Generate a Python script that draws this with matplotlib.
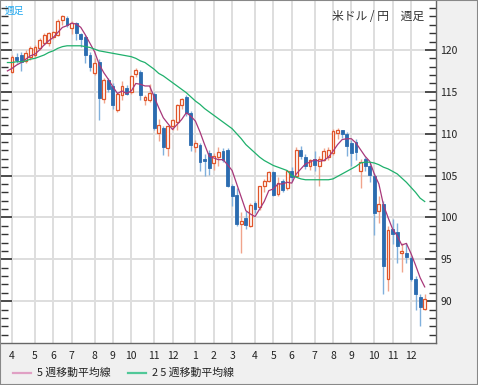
import matplotlib
matplotlib.use("Agg")
import matplotlib.pyplot as plt
from matplotlib.patches import Rectangle
from matplotlib.lines import Line2D

plt.rcParams['font.family'] = ['Noto Sans CJK JP', 'DejaVu Sans']

# 週足 (2007/4 - 2008/12), 1本 = 1週
opens = [117.4, 119.2, 119.4, 118.7, 119.2, 119.4, 120.2, 120.8, 120.8, 121.6,
         121.8, 123.6, 123.8, 122.6, 123.2, 121.9, 121.6, 119.4, 117.2, 118.6,
         114.2, 116.4, 115.7, 112.8, 114.6, 115.4, 115.0, 117.1, 117.4, 114.0,
         114.0, 114.8, 110.1, 110.7, 108.3, 110.9, 111.4, 113.4, 114.4, 112.5,
         108.4, 108.6, 107.0, 107.7, 106.5, 107.2, 107.9, 108.1, 103.7, 102.7,
         99.2, 99.9, 99.0, 101.7, 101.3, 103.7, 104.4, 105.4, 102.8, 104.3,
         103.5, 105.5, 104.9, 108.1, 107.2, 106.1, 107.0, 106.1, 106.9, 107.2,
         107.7, 110.1, 110.4, 110.0, 108.9, 109.0, 105.6, 107.0, 106.1, 105.0,
         100.8, 101.6, 92.6, 98.6, 98.3, 95.7, 95.8, 95.1, 92.7, 90.5, 89.1]
highs = [119.4, 119.6, 119.7, 120.0, 120.5, 120.6, 121.4, 122.0, 122.1, 122.3,
         123.7, 124.2, 124.1, 123.5, 123.4, 122.0, 121.8, 119.7, 119.0, 118.9,
         116.6, 116.6, 116.0, 115.0, 116.3, 115.8, 117.0, 117.8, 117.6, 114.6,
         115.9, 115.0, 111.7, 110.9, 110.9, 111.7, 113.5, 114.3, 114.6, 112.7,
         109.2, 108.9, 107.6, 108.0, 107.7, 108.4, 108.3, 108.3, 104.0, 103.5,
         100.6, 100.8, 101.7, 102.0, 103.8, 104.6, 105.5, 105.6, 104.8, 104.6,
         105.7, 106.0, 108.4, 108.5, 107.6, 107.0, 107.9, 107.3, 108.3, 108.4,
         110.6, 110.7, 110.5, 110.2, 109.2, 109.4, 107.0, 107.2, 106.5, 105.3,
         102.5, 102.0, 99.0, 99.8, 99.3, 97.0, 97.0, 95.4, 93.0, 90.9, 90.9]
lows = [117.3, 118.4, 117.5, 118.5, 118.8, 119.0, 120.0, 120.6, 120.5, 121.3,
        121.7, 123.0, 122.8, 121.9, 121.2, 120.4, 118.4, 117.5, 117.0, 111.6,
        113.7, 115.0, 113.0, 112.6, 114.0, 114.6, 114.8, 116.8, 114.0, 113.4,
        113.8, 110.5, 109.1, 107.5, 107.3, 110.4, 110.5, 113.0, 112.1, 107.9,
        107.8, 105.6, 105.0, 105.1, 105.7, 106.1, 106.6, 103.6, 101.4, 99.0,
        95.8, 98.6, 98.8, 100.5, 100.9, 103.0, 104.2, 102.6, 102.6, 103.0,
        103.3, 104.3, 104.8, 107.0, 105.8, 105.7, 105.5, 103.7, 106.7, 106.9,
        107.5, 109.4, 109.5, 107.3, 106.1, 106.9, 103.5, 105.6, 104.2, 97.9,
        99.3, 90.9, 91.2, 96.8, 94.5, 93.5, 94.6, 92.4, 88.9, 87.0, 89.0]
closes = [119.2, 118.8, 118.6, 119.6, 120.2, 120.4, 121.2, 121.8, 122.0, 122.2,
          123.5, 124.0, 123.0, 123.2, 122.0, 121.3, 119.4, 118.0, 118.5, 114.3,
          116.4, 115.3, 113.4, 114.8, 115.7, 114.8, 116.9, 117.6, 114.6, 114.4,
          114.9, 110.7, 111.0, 108.4, 110.9, 111.6, 113.4, 114.2, 112.5, 108.6,
          108.9, 106.6, 106.7, 105.9, 107.3, 107.8, 106.9, 103.7, 102.5, 99.2,
          99.6, 99.1, 101.5, 101.0, 103.7, 104.3, 105.4, 102.7, 104.1, 103.3,
          105.5, 104.8, 108.1, 107.3, 106.1, 106.8, 106.3, 107.0, 107.9, 108.0,
          110.3, 110.4, 110.0, 108.5, 107.7, 107.8, 106.6, 106.1, 105.1, 100.5,
          101.6, 94.2, 98.5, 98.0, 96.6, 96.0, 95.3, 92.7, 90.9, 89.3, 90.3]

# 移動平均線 (先頭は4月第1週の1本前から)
ma5 = [117.5, 117.8, 118.2, 118.5, 118.9, 119.3, 119.5, 120.0, 120.6, 121.1,
       121.5, 122.1, 122.7, 122.9, 123.2, 123.1, 122.7, 121.8, 120.8, 119.8,
       118.3, 117.3, 116.5, 115.6, 114.8, 115.1, 114.8, 115.1, 116.0, 115.9,
       115.7, 115.7, 114.4, 113.1, 111.9, 111.2, 110.5, 111.1, 111.7, 112.5,
       112.1, 111.5, 110.2, 108.7, 107.3, 107.1, 106.9, 106.9, 106.3, 105.6,
       104.0, 102.4, 100.8, 100.4, 100.1, 101.0, 101.9, 103.2, 103.4, 104.0,
       104.0, 104.2, 104.1, 105.2, 105.8, 106.4, 106.6, 106.9, 106.7, 106.8,
       107.2, 107.9, 108.7, 109.3, 109.4, 109.4, 108.9, 108.1, 107.3, 106.7,
       105.2, 104.0, 101.5, 100.0, 98.6, 97.8, 96.7, 96.9, 95.7, 94.3, 92.8, 91.7]
ma25 = [118.5, 118.5, 118.6, 118.6, 118.7, 118.9, 119.0, 119.2, 119.4, 119.7,
        119.9, 120.2, 120.4, 120.5, 120.5, 120.5, 120.5, 120.4, 120.3, 120.1,
        119.9, 119.8, 119.7, 119.6, 119.5, 119.4, 119.3, 119.2, 119.0, 118.7,
        118.5, 118.1, 117.7, 117.2, 116.9, 116.5, 116.1, 115.7, 115.3, 114.9,
        114.4, 113.9, 113.5, 113.0, 112.6, 112.2, 111.8, 111.4, 111.0, 110.6,
        110.0, 109.4, 108.7, 108.2, 107.7, 107.2, 106.8, 106.5, 106.2, 106.0,
        105.8, 105.6, 105.0, 104.8, 104.6, 104.5, 104.5, 104.5, 104.5, 104.5,
        104.5, 104.6, 104.9, 105.2, 105.5, 105.8, 106.1, 106.5, 106.6, 106.6,
        106.5, 106.3, 106.0, 105.8, 105.5, 105.2, 104.7, 104.2, 103.6, 103.0,
        102.3, 101.9]

month_pos = [0, 5, 9, 13, 18, 22, 26, 31, 35, 40, 44, 48, 53, 57, 61, 66, 70, 74, 79, 83, 87]
month_labels = ['4', '5', '6', '7', '8', '9', '10', '11', '12', '1', '2', '3',
                '4', '5', '6', '7', '8', '9', '10', '11', '12']
y_ticks = [90, 95, 100, 105, 110, 115, 120]

W, H = 478, 385
fig = plt.figure(figsize=(W / 100, H / 100), dpi=100, facecolor='#f0f0f0')
ax = fig.add_axes([1 / W, (H - 343) / H, 435 / W, 342 / H])
ax.set_facecolor('white')

up_edge, up_wick = '#e0552a', '#f0a48c'
dn_face, dn_wick = '#2b6cb0', '#80b0dc'
for i in range(len(opens)):
    o, h, l, c = opens[i], highs[i], lows[i], closes[i]
    if c >= o:
        ax.vlines(i, l, h, color=up_wick, lw=1, zorder=3)
        ax.bar(i, c - o, bottom=o, width=0.62, facecolor='white',
               edgecolor=up_edge, linewidth=0.9, zorder=4)
    else:
        ax.vlines(i, l, h, color=dn_wick, lw=1, zorder=3)
        ax.bar(i, o - c, bottom=c, width=0.62, facecolor=dn_face,
               edgecolor=dn_face, linewidth=0.6, zorder=4)

xma = list(range(-1, len(ma5) - 1))
ax.plot(xma, ma5, color='#a8387a', lw=0.9, zorder=5)
ax.plot(xma, ma25, color='#1fb06c', lw=0.9, zorder=5)

ax.set_xlim(-2.4, 92.46)
ax.set_ylim(85.0, 125.85)

for p in month_pos:
    ax.axvline(p, color='#dedede', lw=1.4, zorder=1)
for y in y_ticks:
    ax.axhline(y, color='#dedede', lw=1.4, zorder=1)

ax.set_xticks(month_pos)
ax.set_xticklabels(month_labels)
ax.tick_params(axis='x', length=0, pad=6, labelsize=7.5, colors='#222222')

ax.yaxis.tick_right()
ax.set_yticks(y_ticks)
ax.set_yticks(range(86, 126), minor=True)
ax.tick_params(axis='y', which='both', direction='in', left=True, right=True,
               color='#333333', labelsize=7.5, labelcolor='#222222', pad=3)
ax.tick_params(axis='y', which='major', length=8, width=1.2)
ax.tick_params(axis='y', which='minor', length=5, width=1)

for s in ['top', 'left']:
    ax.spines[s].set_visible(False)
for s in ['right', 'bottom']:
    ax.spines[s].set_color('#666666')
    ax.spines[s].set_linewidth(1)

ax.text(0.0085, 0.985, '週足', transform=ax.transAxes, color='#20a8f0',
        fontsize=7, ha='left', va='top')
ax.text(0.972, 0.975, '米ドル / 円　週足', transform=ax.transAxes,
        color='#333333', fontsize=8.5, ha='right', va='top')

# 凡例
fig.add_artist(Line2D([13 / W, 31 / W], [(H - 373) / H] * 2, color='#e0a0c4', lw=1.6))
fig.text(37 / W, (H - 373) / H, '5 週移動平均線', fontsize=7.8, va='center', color='#222222')
fig.add_artist(Line2D([128 / W, 146 / W], [(H - 373) / H] * 2, color='#50c898', lw=1.6))
fig.text(152 / W, (H - 373) / H, '2 5 週移動平均線', fontsize=7.8, va='center', color='#222222')

fig.add_artist(Rectangle((0, 0), 1, 1, transform=fig.transFigure, fill=False,
                         edgecolor='#888888', lw=1.5))

fig.savefig('out.png', dpi=100, facecolor=fig.get_facecolor())
